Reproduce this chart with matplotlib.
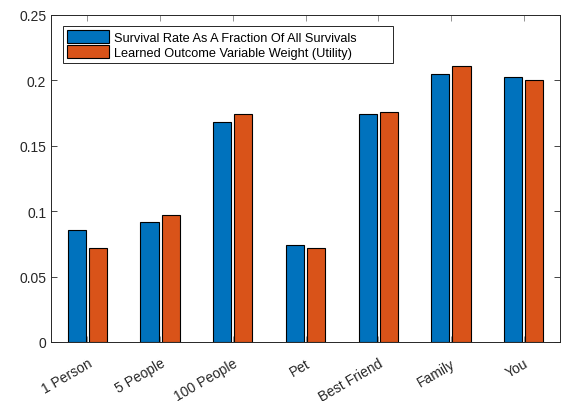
import numpy as np
import matplotlib.pyplot as plt

plt.rcParams['font.family'] = ['Liberation Sans', 'DejaVu Sans']

categories = ['1 Person', '5 People', '100 People', 'Pet', 'Best Friend', 'Family', 'You']
survival = [0.0859, 0.0917, 0.168, 0.0742, 0.174, 0.2051, 0.2024]
utility = [0.0721, 0.0969, 0.174, 0.0721, 0.1756, 0.211, 0.2001]
labels = ['Survival Rate As A Fraction Of All Survivals',
          'Learned Outcome Variable Weight (Utility)']

fig = plt.figure(figsize=(5.67, 4.02), dpi=100)
ax = fig.add_axes([51/567, 1-343/402, 509/567, 327/402])

x = np.arange(1, len(categories)+1)
w = 0.25
ax.bar(x-0.145, survival, w, color='#0072BD', edgecolor='black', linewidth=0.8, label=labels[0])
ax.bar(x+0.145, utility, w, color='#D95319', edgecolor='black', linewidth=0.8, label=labels[1])

ax.set_xlim(0.5, 7.5)
ax.set_ylim(0, 0.25)
ax.set_xticks(x)
ax.set_xticklabels(categories, rotation=30, ha='right', rotation_mode='anchor')
ax.set_yticks([0, 0.05, 0.1, 0.15, 0.2, 0.25])
ax.set_yticklabels(['0', '0.05', '0.1', '0.15', '0.2', '0.25'])
ax.tick_params(direction='in', length=4, width=0.6, colors='#262626',
               labelsize=10, top=True, right=True)
ax.tick_params(axis='x', colors='#808080', labelcolor='#262626', pad=10)
for s in ax.spines.values():
    s.set_color('#262626')
    s.set_linewidth(0.7)

# legend box stretched like the MATLAB one
leg = ax.legend(loc='upper left', bbox_to_anchor=(0.0236, 0, 0.648, 0.966),
                mode='expand', fontsize=9.2,
                fancybox=False, edgecolor='#262626', framealpha=1,
                handlelength=3.3, handleheight=1.15, borderpad=0.3,
                labelspacing=0.12, handletextpad=0.4, borderaxespad=0)
leg.get_frame().set_linewidth(0.7)

fig.savefig('out.png', dpi=100)
